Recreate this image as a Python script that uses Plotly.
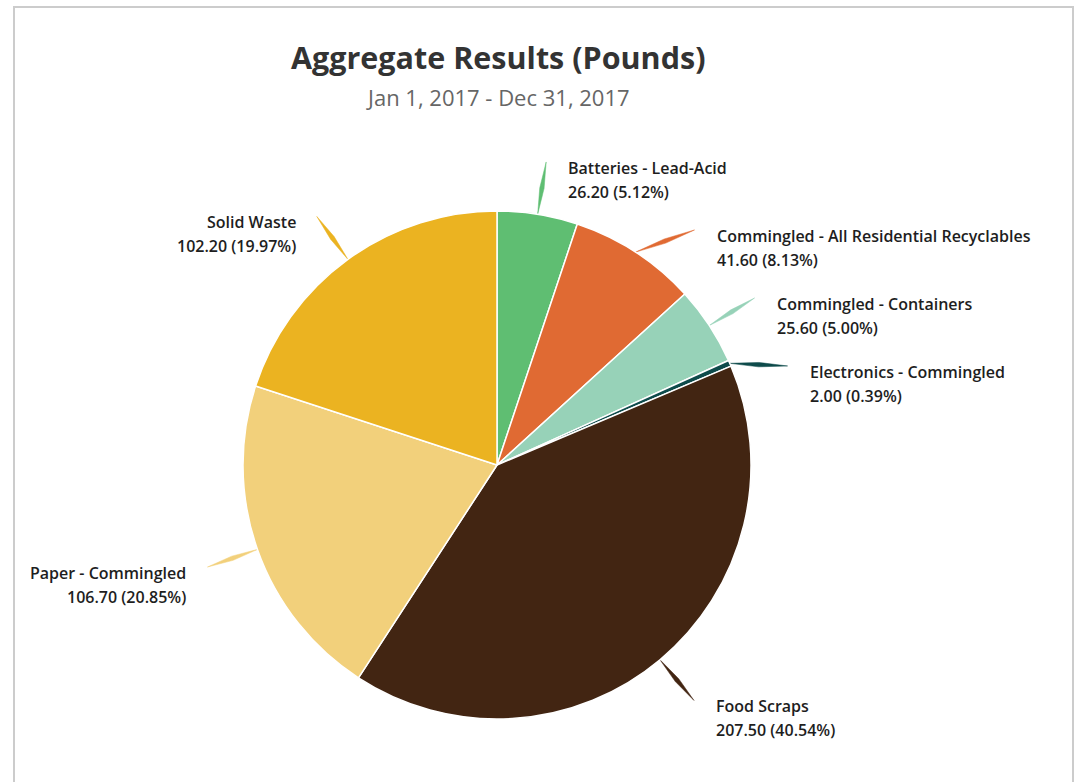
import math
import plotly.graph_objects as go

# ---- data ----
categories = [
    "Batteries - Lead-Acid",
    "Commingled - All Residential Recyclables",
    "Commingled - Containers",
    "Electronics - Commingled",
    "Food Scraps",
    "Paper - Commingled",
    "Solid Waste",
]
values = [26.20, 41.60, 25.60, 2.00, 207.50, 106.70, 102.20]
colors = ["#5fbe72", "#e06a33", "#97d2b8", "#0e4b4b", "#422512", "#f2d07b", "#ebb321"]
title_text = "Aggregate Results (Pounds)"
subtitle_text = "Jan 1, 2017 - Dec 31, 2017"

# ---- layout geometry (screen pixels) ----
W, H = 1076, 782
CX, CY, R = 497, 465, 254
DIST = 53          # connector length beyond the pie edge
MIN_GAP = 68       # minimal vertical spacing between labels on one side
FONT = "Open Sans"

total = sum(values)
fig = go.Figure()

fig.add_trace(go.Pie(
    labels=categories, values=values, sort=False, direction="clockwise",
    rotation=0, marker=dict(colors=colors, line=dict(color="white", width=1.5)),
    textinfo="none", hoverinfo="label+value+percent", showlegend=False,
    domain=dict(x=[(CX - R) / W, (CX + R) / W],
                y=[(H - CY - R) / H, (H - CY + R) / H]),
))

cum = 0.0
items = []
for i, v in enumerate(values):
    mid = (cum + v / 2) / total * 2 * math.pi
    cum += v
    sx = CX + R * math.sin(mid)
    sy = CY - R * math.cos(mid)
    ex = CX + (R + DIST) * math.sin(mid)
    ey = CY - (R + DIST) * math.cos(mid)
    side = 1 if math.sin(mid) >= 0 else -1
    items.append(dict(i=i, sx=sx, sy=sy, ex=ex, ey=ey, side=side))

for side in (1, -1):
    group = sorted([it for it in items if it["side"] == side], key=lambda d: d["ey"])
    prev = None
    for it in group:
        if prev is not None and it["ey"] < prev + MIN_GAP:
            it["ey"] = prev + MIN_GAP
        dy = it["ey"] - CY
        rr = R + DIST
        it["ex"] = CX + side * math.sqrt(max(rr * rr - dy * dy, 0))
        prev = it["ey"]

annotations = []
for it in items:
    i = it["i"]
    sx, sy, ex, ey = it["sx"], it["sy"], it["ex"], it["ey"]
    dx, dy = ex - sx, ey - sy
    L = math.hypot(dx, dy)
    px, py = -dy / L, dx / L
    w = 2.2
    mx, my = (sx + ex) / 2, (sy + ey) / 2
    xs = [sx, mx + px * w, ex, mx - px * w, sx]
    ys = [sy, my + py * w, ey, my - py * w, sy]
    fig.add_trace(go.Scatter(x=xs, y=ys, mode="lines", fill="toself",
                             fillcolor=colors[i], line=dict(width=0.5, color=colors[i]),
                             hoverinfo="skip", showlegend=False))
    side = it["side"]
    tx = ex + 20 if side > 0 else ex - 19
    anchor = "left" if side > 0 else "right"
    pct = values[i] / total * 100
    for k, txt in enumerate([categories[i], f"{values[i]:.2f} ({pct:.2f}%)"]):
        annotations.append(dict(
            x=tx, y=ey + 6 + 24 * k, xref="x", yref="y", text=txt,
            showarrow=False, xanchor=anchor, yanchor="middle",
            font=dict(family=FONT, size=16, color="#1e1e1e", weight=600),
        ))

annotations.append(dict(x=498, y=57, xref="x", yref="y", text=f"<b>{title_text}</b>",
                        showarrow=False, xanchor="center", yanchor="middle",
                        font=dict(family=FONT, size=30.5, color="#333333")))
annotations.append(dict(x=498, y=97, xref="x", yref="y", text=subtitle_text,
                        showarrow=False, xanchor="center", yanchor="middle",
                        font=dict(family=FONT, size=22, color="#666666")))

fig.update_layout(
    width=W, height=H, margin=dict(l=0, r=0, t=0, b=0),
    paper_bgcolor="white", plot_bgcolor="rgba(0,0,0,0)",
    xaxis=dict(range=[0, W], visible=False, fixedrange=True, domain=[0, 1]),
    yaxis=dict(range=[H, 0], visible=False, fixedrange=True, domain=[0, 1]),
    annotations=annotations,
    shapes=[dict(type="rect", xref="x", yref="y", x0=14, x1=1073, y0=7, y1=800,
                 line=dict(color="#cccccc", width=2), fillcolor="rgba(0,0,0,0)",
                 layer="below")],
    showlegend=False,
)

fig.write_html("out.html", config={"displayModeBar": False},
               post_script="document.body.style.margin='0';document.body.style.overflow='hidden';")
